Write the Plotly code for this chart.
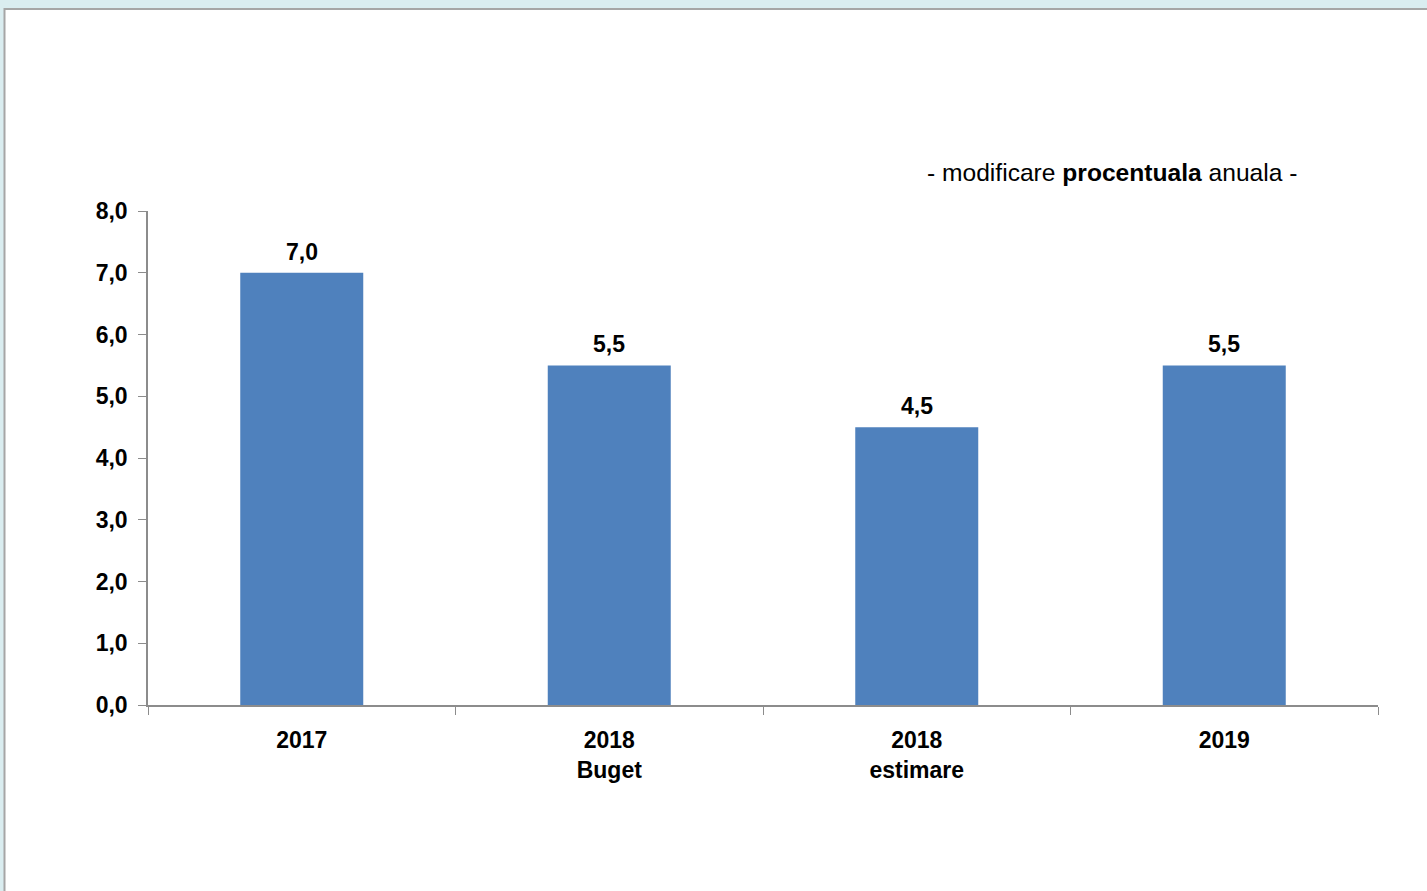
import plotly.graph_objects as go

categories = ["2017", "2018<br>Buget", "2018<br>estimare", "2019"]
values = [7.0, 5.5, 4.5, 5.5]
y_ticks = [0, 1, 2, 3, 4, 5, 6, 7, 8]

W, H = 1427, 891
ML, MR, MT, MB = 148, W - 1378, 211, H - 705
PW, PH = W - ML - MR, H - MT - MB

def px_x(p):
    return (p - ML) / PW

def px_y(p):
    return (H - MB - p) / PH

FONT = "Liberation Sans, Arial"

fig = go.Figure(go.Bar(
    x=categories, y=values,
    marker=dict(color="#4f81bd", line=dict(width=0)),
    width=0.4,
    hoverinfo="x+y",
))

label_annotations = [
    dict(x=i, y=v, xref="x", yref="y", text=f"{v:.1f}".replace(".", ","),
         showarrow=False, yanchor="bottom", yshift=6,
         font=dict(family=FONT, size=23, color="black", weight="bold"))
    for i, v in enumerate(values)
]

fig.update_layout(
    width=W, height=H,
    margin=dict(l=ML, r=MR, t=MT, b=MB),
    paper_bgcolor="#daedf0",
    plot_bgcolor="white",
    separators=",.",
    showlegend=False,
    font=dict(family=FONT, size=23, color="black"),
    xaxis=dict(
        type="category",
        showline=True, linecolor="#8c8c8c", linewidth=1.5,
        ticks="outside", tickson="boundaries", ticklen=8, tickcolor="#8c8c8c",
        tickfont=dict(family=FONT, size=23, color="black", weight="bold"),
        tickangle=0,
        ticklabelstandoff=14,
        showgrid=False, zeroline=False,
    ),
    yaxis=dict(
        range=[0, 8], tickvals=y_ticks, tickformat=".1f",
        showline=True, linecolor="#8c8c8c", linewidth=1.5,
        ticks="outside", ticklen=8, tickcolor="#8c8c8c",
        tickfont=dict(family=FONT, size=23, color="black", weight="bold"),
        ticklabelstandoff=6,
        showgrid=False, zeroline=False,
    ),
    shapes=[
        dict(type="rect", xref="paper", yref="paper", layer="below",
             x0=px_x(4.5), x1=px_x(W + 20), y0=px_y(H + 20), y1=px_y(9),
             fillcolor="white", line=dict(color="#a6a6a6", width=2)),
    ],
    annotations=label_annotations + [
        dict(xref="paper", yref="paper", x=px_x(1299), y=px_y(172),
             xanchor="right", yanchor="middle", showarrow=False,
             text="- modificare <b>procentuala</b> anuala -",
             font=dict(family="Liberation Sans Narrow, Arial Narrow, Liberation Sans", size=24.6, color="black")),
    ],
)

fig.write_html(
    "out.html",
    config={"displayModeBar": False},
    post_script="document.body.style.margin='0';document.body.style.padding='0';document.body.style.overflow='hidden';",
)
